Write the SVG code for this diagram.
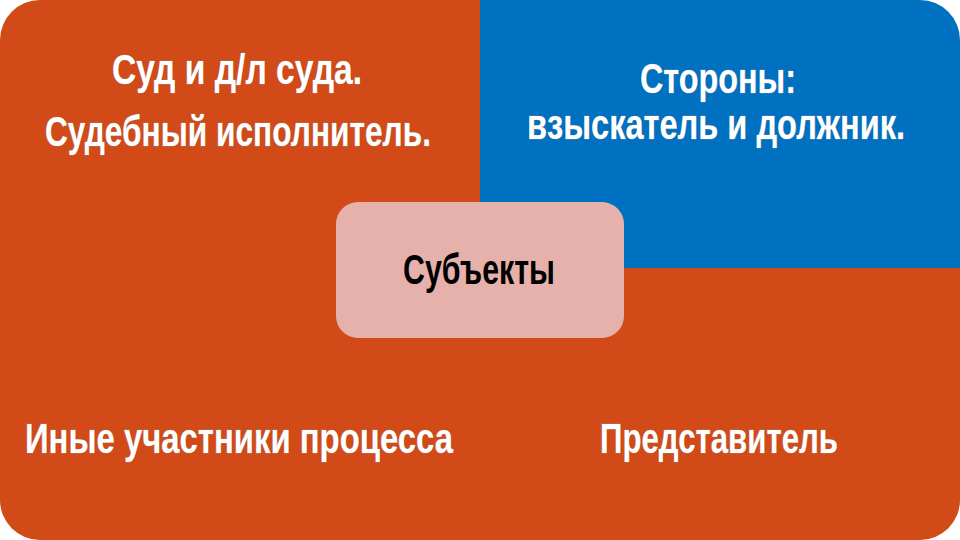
<svg xmlns="http://www.w3.org/2000/svg" width="960" height="540" viewBox="0 0 960 540">
<style>
.t{font-family:"Liberation Sans","Arial",sans-serif;font-weight:bold;font-size:42px;fill:#fff;stroke:#9a9a9a;stroke-width:0.6;paint-order:stroke}
.c{font-family:"Liberation Sans","Arial",sans-serif;font-weight:bold;font-size:42px;fill:#000}
</style>
<rect width="960" height="540" fill="#fff"/>
<g id="q-tl"><path d="M40 0 H481 V271 H0 V40 A40 40 0 0 1 40 0 Z" fill="#D24A17"/>
<text class="t" x="112" y="84" textLength="250" lengthAdjust="spacingAndGlyphs">Суд и д/л суда.</text>
<text class="t" x="45" y="146" textLength="386" lengthAdjust="spacingAndGlyphs">Судебный исполнитель.</text></g>
<g id="q-tr"><path d="M480 0 H920 A40 40 0 0 1 960 40 V269 H480 Z" fill="#0070C0"/>
<text class="t" x="640" y="93" textLength="156" lengthAdjust="spacingAndGlyphs">Стороны:</text>
<text class="t" x="527" y="139" textLength="378" lengthAdjust="spacingAndGlyphs">взыскатель и должник.</text></g>
<g id="q-b"><path d="M0 268 H960 V500 A40 40 0 0 1 920 540 H40 A40 40 0 0 1 0 500 Z" fill="#D24A17"/>
<text class="t" x="25" y="453" textLength="428" lengthAdjust="spacingAndGlyphs">Иные участники процесса</text>
<text class="t" x="600" y="453" textLength="238" lengthAdjust="spacingAndGlyphs">Представитель</text></g>
<g id="center"><rect x="336" y="202" width="288" height="136" rx="22" fill="#E6B1AB"/>
<text class="c" x="403" y="284" textLength="152" lengthAdjust="spacingAndGlyphs">Субъекты</text></g>
</svg>
